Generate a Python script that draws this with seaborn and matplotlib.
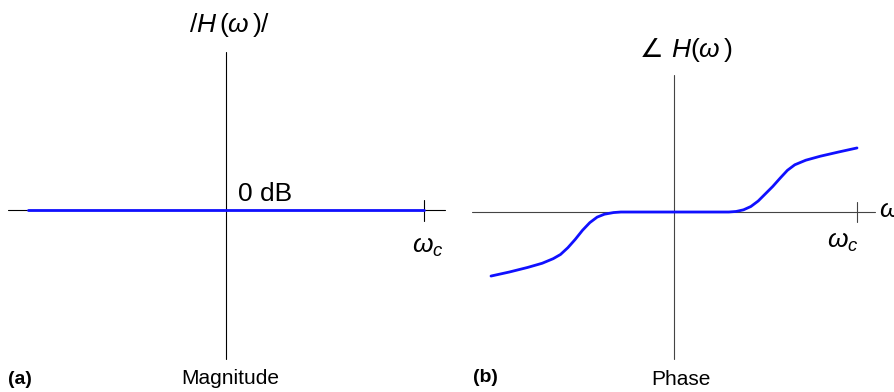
import matplotlib
matplotlib.use("Agg")
import matplotlib.pyplot as plt
import seaborn as sns
import numpy as np
import pandas as pd

# ---- data (omega in units of omega_c) ----
mag_w = [-1.0, 1.0]
mag_db = [0.0, 0.0]

phase_w = [-1.00, -0.90, -0.80, -0.72, -0.66, -0.62, -0.58, -0.54, -0.50, -0.46,
           -0.42, -0.38, -0.33, -0.29, 0.00, 0.30, 0.34, 0.38, 0.42, 0.46,
           0.50, 0.54, 0.58, 0.62, 0.66, 0.72, 0.80, 0.90, 1.00]
phase_val = [-0.350, -0.328, -0.303, -0.280, -0.255, -0.232, -0.195, -0.150, -0.100, -0.058,
             -0.028, -0.012, -0.003, 0.000, 0.000, 0.000, 0.003, 0.012, 0.030, 0.060,
             0.100, 0.140, 0.185, 0.228, 0.258, 0.283, 0.305, 0.328, 0.350]

sns.set_theme(style="white")
plt.rcParams['font.family'] = ['Liberation Sans', 'DejaVu Sans']
plt.rcParams['text.color'] = 'black'
plt.rcParams['mathtext.fontset'] = 'custom'
plt.rcParams['mathtext.rm'] = 'Liberation Sans'
plt.rcParams['mathtext.it'] = 'Liberation Sans:italic'

fig = plt.figure(figsize=(8.94, 3.92), dpi=100)
axL = fig.add_axes([0, 0, 0.5, 1])
axR = fig.add_axes([0.5, 0, 0.5, 1])

BLUE = "#1010ff"

# ---- left panel: magnitude ----
axL.set_xlim(-1.1414, 1.1162)
axL.set_ylim(-0.919, 1.0606)
axL.axis("off")
axL.plot([-1.10, 1.106], [0, 0], color="black", lw=0.8)
axL.plot([0, 0], [-0.753, 0.798], color="black", lw=0.8)
axL.plot([1.0, 1.0], [-0.054, 0.05], color="black", lw=0.8)
sns.lineplot(x=mag_w, y=mag_db, ax=axL, color=BLUE, lw=2.0, sort=False)
axL.text(0.06, 0.045, "0 dB", fontsize=19, ha="left", va="baseline")
axL.text(0.938, -0.185, r"$\omega_c$", fontsize=19, ha="left", va="center")
axL.text(0.02, 0.934, r"$/H\,(\omega\,)/$", fontsize=19, ha="center", va="center")
axL.text(-1.10, -0.854, "(a)", fontsize=14, fontweight="bold", ha="left", va="center")
axL.text(0.024, -0.85, "Magnitude", fontsize=15, ha="center", va="center")

# ---- right panel: phase ----
axR.set_xlim(-1.2404, 1.2022)
axR.set_ylim(-0.9836, 1.1585)
axR.axis("off")
AX = "#444444"
axR.plot([-1.102, 1.098], [0, 0], color=AX, lw=0.8)
axR.plot([0, 0], [-0.803, 0.749], color=AX, lw=0.8)
axR.plot([0.998, 0.998], [-0.053, 0.055], color=AX, lw=0.8)
sns.lineplot(x=phase_w, y=phase_val, ax=axR, color=BLUE, lw=2.0, sort=False)
axR.text(1.12, 0.01, r"$\omega$", fontsize=19, ha="left", va="center")
axR.text(0.834, -0.162, r"$\omega_c$", fontsize=19, ha="left", va="center")
axR.text(0.065, 0.885, "\u2220 " + r"$H(\omega\,)$", fontsize=19, ha="center", va="center",
         family=['DejaVu Sans'])
axR.text(-1.097, -0.907, "(b)", fontsize=14, fontweight="bold", ha="left", va="center")
axR.text(0.037, -0.918, "Phase", fontsize=15, ha="center", va="center")

fig.savefig("out.png", dpi=100)
